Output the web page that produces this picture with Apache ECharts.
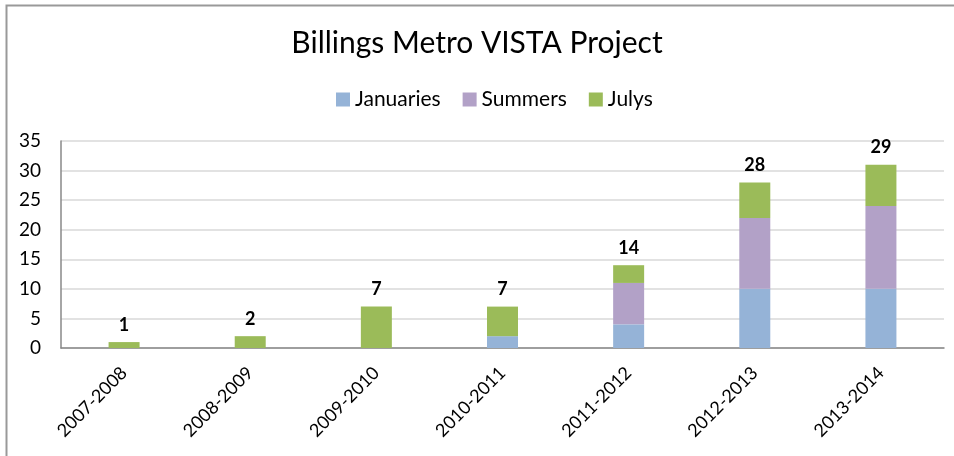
<!DOCTYPE html>
<html>
<head>
<meta charset="utf-8">
<script src="https://cdn.jsdelivr.net/npm/echarts@6/dist/echarts.min.js"></script>
<style>
  html, body { margin: 0; padding: 0; background: #fff; }
  #main { width: 954px; height: 456px; }
</style>
</head>
<body>
<div id="main"></div>
<script>
// 年份类别
var years = ['2007-2008', '2008-2009', '2009-2010', '2010-2011', '2011-2012', '2012-2013', '2013-2014'];
// 各系列数值
var januaries = [0, 0, 0, 2, 4, 10, 10];
var summers = [0, 0, 0, 0, 7, 12, 14];
var julys = [1, 2, 7, 5, 3, 6, 7];
// 柱顶标注的总数
var totals = [1, 2, 7, 7, 14, 28, 29];
var yTicks = [0, 5, 10, 15, 20, 25, 30, 35];

var font = 'Lato, "Open Sans", sans-serif';
var myChart = echarts.init(document.getElementById('main'));

myChart.setOption({
  animation: false,
  textStyle: { fontFamily: font },
  title: {
    text: 'Billings Metro VISTA Project',
    left: 'center',
    top: 23,
    textStyle: { fontFamily: font, fontSize: 30, fontWeight: 'normal', color: '#000' }
  },
  legend: {
    top: 84,
    left: 331,
    icon: 'rect',
    itemWidth: 14,
    itemHeight: 14,
    itemGap: 22,
    textStyle: { fontFamily: font, fontSize: 21, color: '#000' },
    data: ['Januaries', 'Summers', 'Julys']
  },
  grid: { left: 61, right: 10, top: 141, bottom: 108 },
  xAxis: {
    type: 'category',
    data: years,
    axisLine: { lineStyle: { color: '#888', width: 1.5 } },
    axisTick: { show: false },
    axisLabel: { rotate: 45, fontSize: 18, color: '#000', margin: 22, fontFamily: font }
  },
  yAxis: {
    type: 'value',
    min: yTicks[0],
    max: yTicks[yTicks.length - 1],
    interval: 5,
    axisLine: { show: true, lineStyle: { color: '#888', width: 1.5 } },
    axisTick: { show: false },
    splitLine: { lineStyle: { color: '#d9d9d9', width: 1.5 } },
    axisLabel: { fontSize: 19, color: '#000', margin: 20, fontFamily: font }
  },
  series: [
    {
      name: 'Januaries', type: 'bar', stack: 'all', barWidth: 31,
      itemStyle: { color: '#95b3d7' },
      data: januaries
    },
    {
      name: 'Summers', type: 'bar', stack: 'all',
      itemStyle: { color: '#b2a1c7' },
      data: summers
    },
    {
      name: 'Julys', type: 'bar', stack: 'all',
      itemStyle: { color: '#9bbb59' },
      label: {
        show: true,
        position: 'top',
        distance: 8,
        fontSize: 18,
        fontWeight: 'bold',
        color: '#000',
        fontFamily: font,
        formatter: function (p) { return totals[p.dataIndex]; }
      },
      data: julys
    }
  ],
  graphic: [
    {
      type: 'polyline',
      silent: true,
      shape: { points: [[6.5, 460], [6.5, 5.5], [960, 5.5]] },
      style: { stroke: '#999', lineWidth: 2, fill: null }
    }
  ]
});
</script>
</body>
</html>
